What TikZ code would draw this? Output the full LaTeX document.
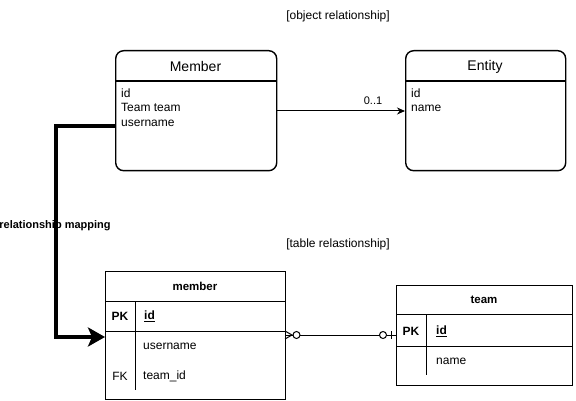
\documentclass[tikz,border=0pt]{standalone}
\usepackage{fontspec}
\setmainfont{Liberation Sans}
\usetikzlibrary{arrows.meta}
\begin{document}
\begin{tikzpicture}[x=1pt,y=-1pt,
  objbox/.style={draw, line width=1.4pt, rounded corners=8pt, anchor=north west, inner sep=0pt},
  tblbox/.style={draw, line width=1pt, anchor=north west, inner sep=0pt},
  title/.style={font=\fontsize{14}{16}\selectfont},
  attr/.style={font=\fontsize{12}{14.6}\selectfont, align=left, anchor=north west, inner sep=0pt},
  tbltitle/.style={font=\fontsize{11.5}{13}\selectfont\bfseries},
  cell/.style={font=\fontsize{12}{14}\selectfont, anchor=west, inner sep=0pt},
  keycell/.style={font=\fontsize{12}{14}\selectfont\bfseries, inner sep=0pt},
  note/.style={font=\fontsize{12}{14}\selectfont},
  small/.style={font=\fontsize{11}{13}\selectfont}
]
\useasboundingbox (0,0) rectangle (576,401);

% ---------- object boxes ----------
\node[objbox, minimum width=161pt, minimum height=120pt] (memobj) at (115,50) {};
\draw[line width=1.4pt] (115,81) -- (276,81);
\node[title] (memtitle) at (195.5,66.5) {Member};
\node[attr] (memattr) at (121,88.5) {id\\Team team\\username};

\node[objbox, minimum width=160pt, minimum height=120pt] (entobj) at (405,50) {};
\draw[line width=1.4pt] (405,81) -- (565,81);
\node[title] (enttitle) at (485,66.5) {Entity};
\node[attr] (entattr) at (411,88.5) {id\\name};

\node[note] (objlbl) at (338,16) {[object relationship]};
\node[note] (tbllbl) at (338,244) {[table relastionship]};

% arrow 0..1
\coordinate (a1) at (276,111);
\coordinate (a2) at (405,111);
\draw[line width=1pt, -{Stealth[length=8pt,width=7pt]}] (memobj.east |- a1) -- (entobj.west |- a2);
\node[small] (mult) at (373,101) {0..1};

% ---------- tables ----------
\node[tblbox, minimum width=180pt, minimum height=128pt] (memtbl) at (105,271) {};
\draw[line width=1pt] (105,301) -- (285,301);
\draw[line width=1pt] (105,331) -- (285,331);
\draw[line width=1pt] (135,301) -- (135,390);
\node[tbltitle] (memtbltitle) at (195,286) {member};
\node[keycell] (mpk) at (120,316) {PK};
\node[cell, font=\fontsize{12}{14}\selectfont\bfseries] (mid) at (144,316) {\underline{id}};
\node[cell] (muser) at (143,346) {username};
\node[keycell, font=\fontsize{12}{14}\selectfont] (mfk) at (120,376) {FK};
\node[cell] (mteam) at (143,376) {team\_id};

\node[tblbox, minimum width=176pt, minimum height=100pt] (teamtbl) at (396,285) {};
\draw[line width=1pt] (396,314) -- (572,314);
\draw[line width=1pt] (396,346) -- (572,346);
\draw[line width=1pt] (426,314) -- (426,375);
\node[tbltitle] (teamtbltitle) at (484,300) {team};
\node[keycell] (tpk) at (411,331) {PK};
\node[cell, font=\fontsize{12}{14}\selectfont\bfseries] (tid) at (436,331) {\underline{id}};
\node[cell] (tname) at (436,361) {name};

% ---------- ER connector ----------
\coordinate (e1) at (285,335);
\coordinate (e2) at (396,335);
\draw[line width=1pt] (memtbl.east |- e1) -- (teamtbl.west |- e2);
\draw[line width=1pt] (285,331) -- (292,335) -- (285,339);
\draw[line width=1pt, fill=white] (296.5,335) circle (3.5pt);
\draw[line width=1pt, fill=white] (383,335) circle (3.5pt);
\draw[line width=1pt] (391,331) -- (391,339);

% ---------- mapping connector ----------
\coordinate (m1) at (56,126);
\coordinate (m2) at (56,337);
\coordinate (m3) at (105,337);
\draw[line width=4pt, -{Stealth[length=17pt,width=19pt,inset=4pt]}]
  (memobj.west |- m1) -- (m1) -- (m2) -- (memtbl.west |- m3);
\node[font=\fontsize{11}{13}\selectfont\bfseries] (maplbl) at (55,226) {relationship mapping};
\end{tikzpicture}
\end{document}
